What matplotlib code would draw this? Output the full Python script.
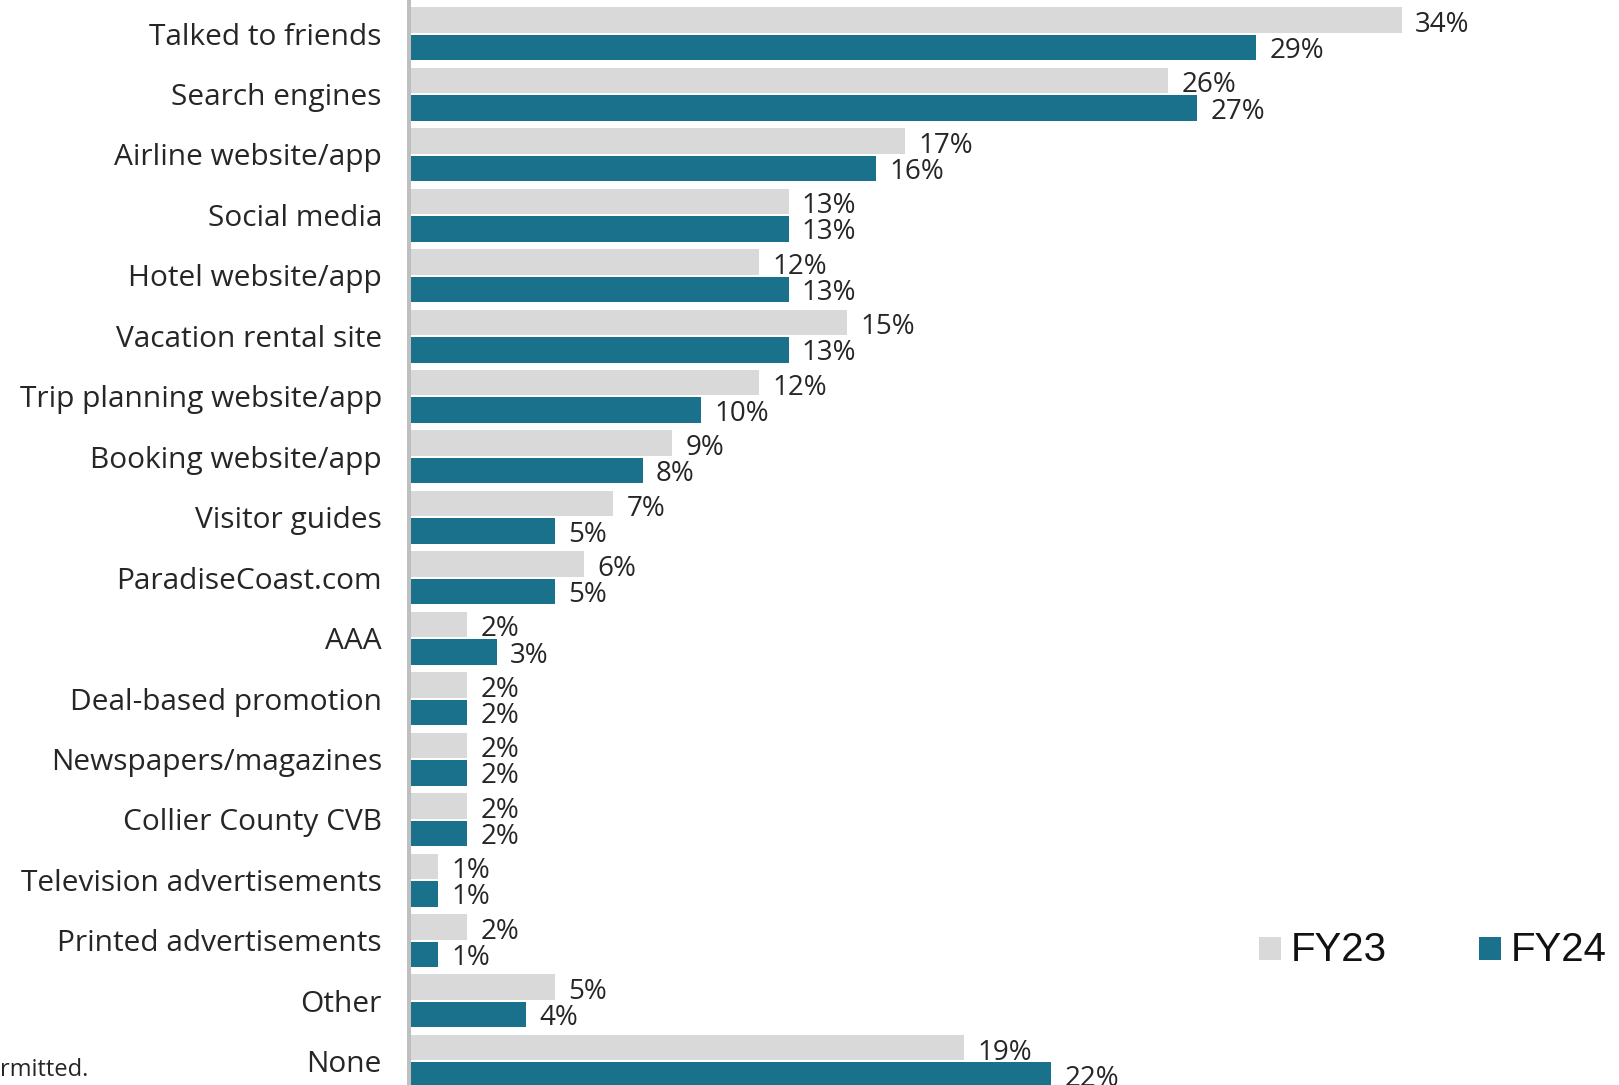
import matplotlib
matplotlib.use("Agg")
import numpy as np
from matplotlib import pyplot as plt
from matplotlib.patches import Rectangle

categories = [
    "Talked to friends",
    "Search engines",
    "Airline website/app",
    "Social media",
    "Hotel website/app",
    "Vacation rental site",
    "Trip planning website/app",
    "Booking website/app",
    "Visitor guides",
    "ParadiseCoast.com",
    "AAA",
    "Deal-based promotion",
    "Newspapers/magazines",
    "Collier County CVB",
    "Television advertisements",
    "Printed advertisements",
    "Other",
    "None",
]
fy23 = [34, 26, 17, 13, 12, 15, 12, 9, 7, 6, 2, 2, 2, 2, 1, 2, 5, 19]
fy24 = [29, 27, 16, 13, 13, 13, 10, 8, 5, 5, 3, 2, 2, 2, 1, 1, 4, 22]
series_names = ["FY23", "FY24"]

gray = "#d9d9d9"
teal = "#1a718c"
text_c = "#262626"
font = ["Open Sans", "DejaVu Sans"]

W, H = 1619, 1085
fig = plt.figure(figsize=(W / 100, H / 100), dpi=100)

ax_left = 409
px_per_pct = 29.2
pitch = 60.45
ax = fig.add_axes([ax_left / W, 0, 1 - ax_left / W, 1])
ax.set_xlim(0, (W - ax_left) / px_per_pct)
ax.set_ylim((H - 33.75) / pitch, -33.75 / pitch)

y = np.arange(len(categories))
off = 13.75 / pitch
h = 25.5 / pitch
ax.barh(y - off, fy23, height=h, color=gray, zorder=1)
ax.barh(y + off, fy24, height=h, color=teal, zorder=1)

for yy, v in zip(y - off, fy23):
    ax.annotate(f"{v}%", (v, yy), xytext=(9.6, -8.6), textcoords="offset points",
                ha="left", va="baseline", fontsize=20, family=font, color=text_c)
for yy, v in zip(y + off, fy24):
    ax.annotate(f"{v}%", (v, yy), xytext=(9.6, -7.6), textcoords="offset points",
                ha="left", va="baseline", fontsize=20, family=font, color=text_c)

# category labels, right aligned left of the axis line
for yy, lab in zip(y, categories):
    ax.annotate(lab, (0, yy), xycoords=ax.get_yaxis_transform(), xytext=(-19.5, -7.8),
                textcoords="offset points", ha="right", va="baseline",
                fontsize=21.5, family=font, color=text_c, annotation_clip=False)

ax.set_xticks([])
ax.set_yticks([])
for s in ["top", "right", "bottom"]:
    ax.spines[s].set_visible(False)
ax.spines["left"].set_color("#bfbfbf")
ax.spines["left"].set_linewidth(2.9)

# legend
for name, col, sx in zip(series_names, [gray, teal], [1259, 1479]):
    fig.add_artist(Rectangle((sx / W, 1 - 960 / H), 22 / W, 23 / H, transform=fig.transFigure,
                             facecolor=col, edgecolor="none"))
    fig.text((sx + 32) / W, 1 - 961 / H, name, ha="left", va="baseline", fontsize=29,
             family=["Liberation Sans", "DejaVu Sans"], color="#111111")

# cut-off footnote
fig.text(0, 1 - 1076 / H, "rmitted.", ha="left", va="baseline", fontsize=17,
         family=font, color=text_c)

fig.savefig("out.png", dpi=100)
